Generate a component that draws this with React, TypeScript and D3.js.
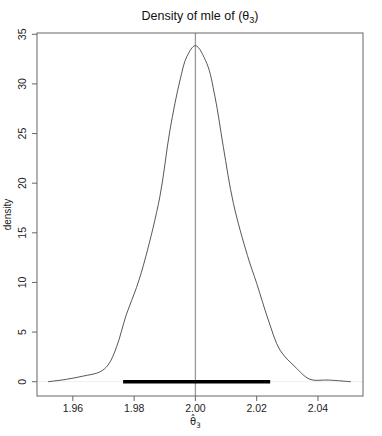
import React from 'react'
import * as d3 from 'd3'

// density estimate
const densX = [1.9519, 1.9579, 1.9634, 1.9688, 1.9715, 1.9743, 1.9775, 1.9808, 1.9838, 1.9884, 1.9917, 1.995, 1.9972, 2.0, 2.0037, 2.0064, 2.0091, 2.0124, 2.017, 2.02, 2.0238, 2.0276, 2.0325, 2.0374, 2.0434, 2.0507]
const densY = [0.0, 0.24, 0.57, 0.98, 1.68, 3.53, 6.8, 9.5, 12.6, 18.64, 25.36, 30.4, 32.75, 33.86, 32.08, 28.7, 23.68, 17.97, 12.7, 9.91, 6.22, 3.19, 1.51, 0.24, 0.17, 0.0]
const intervalX = [1.9764, 2.0244]
const trueValue = 2.0
const xTicks = [1.96, 1.98, 2.0, 2.02, 2.04]
const yTicks = [0, 5, 10, 15, 20, 25, 30, 35]

const W = 382
const H = 436
const m = { left: 37, right: 19, top: 33, bottom: 40 }

export default function App() {
  const x = d3.scaleLinear().domain([1.9483, 2.0547]).range([m.left, W - m.right])
  const y = d3.scaleLinear().domain([-1.44, 35.13]).range([H - m.bottom, m.top])
  const pts = densX.map((v, i) => [v, densY[i]] as [number, number])
  const line = d3
    .line<[number, number]>()
    .x((d) => x(d[0]))
    .y((d) => y(d[1]))
    .curve(d3.curveCatmullRom.alpha(0.5))
  const font = 'Liberation Sans, Arial, sans-serif'
  const x0 = m.left
  const x1 = W - m.right
  const yb = H - m.bottom
  return (
    <svg width={W} height={H} style={{ position: 'absolute', left: 0, top: 0 }} fontFamily={font}>
      <rect width={W} height={H} fill="#fff" />
      <text x={(x0 + x1) / 2} y={20} textAnchor="middle" fontSize={12.5} fill="#111">
        Density of mle of (θ<tspan fontSize={9} dy={3}>3</tspan><tspan dy={-3}>)</tspan>
      </text>
      <line x1={x0} x2={x1} y1={y(0)} y2={y(0)} stroke="#eee" strokeWidth={1} />
      <line x1={x(trueValue)} x2={x(trueValue)} y1={m.top} y2={yb} stroke="#999" strokeWidth={1.3} />
      <path d={line(pts) || ''} fill="none" stroke="#444" strokeWidth={0.9} />
      <line x1={x(intervalX[0])} x2={x(intervalX[1])} y1={y(0)} y2={y(0)} stroke="#000" strokeWidth={3.5} />
      <rect x={x0} y={m.top} width={x1 - x0} height={yb - m.top} fill="none" stroke="#666" strokeWidth={1} />
      {xTicks.map((t) => (
        <g key={t}>
          <line x1={x(t)} x2={x(t)} y1={yb} y2={yb + 5} stroke="#666" />
          <text x={x(t)} y={yb + 16} textAnchor="middle" fontSize={10.5} fill="#222">
            {d3.format('.2f')(t)}
          </text>
        </g>
      ))}
      {yTicks.map((t) => (
        <g key={t}>
          <line x1={x0} x2={x0 - 5} y1={y(t)} y2={y(t)} stroke="#666" />
          <text
            transform={`translate(${x0 - 11},${y(t)}) rotate(-90)`}
            textAnchor="middle"
            fontSize={10.5}
            fill="#222"
          >
            {t}
          </text>
        </g>
      ))}
      <text transform={`translate(11,${(m.top + yb) / 2}) rotate(-90)`} textAnchor="middle" fontSize={10} fill="#222">
        density
      </text>
      <text x={x(2.0)} y={425} textAnchor="middle" fontSize={10} fill="#222" fontFamily="DejaVu Sans, sans-serif">
        {'θ\u0302'}<tspan fontSize={7.5} dy={3}>3</tspan>
      </text>
    </svg>
  )
}
